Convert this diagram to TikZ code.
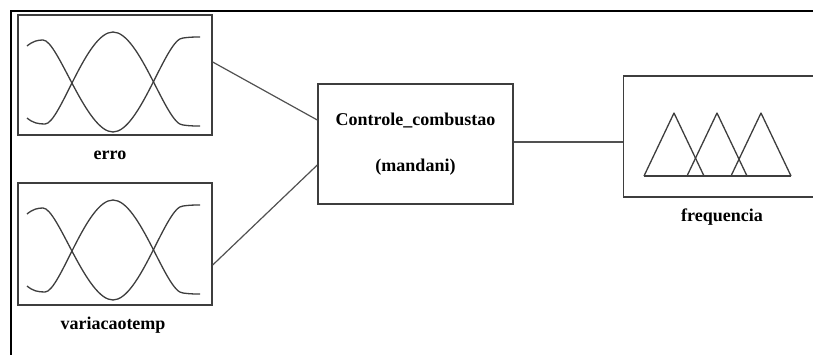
\documentclass[tikz,border=0pt]{standalone}
\usepackage{fontspec}
\setmainfont{Liberation Serif}
\usetikzlibrary{positioning}

\definecolor{mfgray}{RGB}{62,62,62}

\begin{document}
\begin{tikzpicture}[x=1pt, y=-1pt,
	fisbox/.style={draw=mfgray, line width=1.4pt, minimum width=194pt, minimum height=120pt, inner sep=0pt},
	fislabel/.style={font=\fontsize{18}{20}\selectfont\bfseries, inner sep=1pt},
	mfline/.style={draw=mfgray, line width=1.3pt, line join=round},
	conn/.style={draw=mfgray!90, line width=1.2pt}]
	\useasboundingbox (0,0) rectangle (813,354);
	\clip (0,0) rectangle (813,354);
	% window frame, cut at the right and bottom
	\draw[line width=2.5pt] (11,360) -- (11,11) -- (820,11);
	% inputs, rule block and output
	\node[fisbox] (erro) at (115,75) {};
	\node[fisbox, minimum height=122pt] (variacao) at (115,244) {};
	\node[fisbox, minimum width=195pt, align=center, font=\fontsize{18}{20}\selectfont\bfseries] (controle) at (415.5,144) {Controle\_combustao\\[26pt](mandani)};
	\node[fisbox, minimum width=240pt, minimum height=121pt, anchor=west] (freq) at (623,136.5) {};
	\node[fislabel] (erro label) at (110,155) {erro};
	\node[fislabel] (variacao label) at (113,325) {variacaotemp};
	\node[fislabel] (freq label) at (722,217) {frequencia};
	% links
	\draw[conn] ([yshift=13pt]erro.east) -- ([yshift=24pt]controle.west);
	\draw[conn] ([yshift=-21pt]variacao.east) -- ([yshift=-21pt]controle.west);
	\draw[conn] ([yshift=2pt]controle.east) -- ([yshift=2pt]controle.east -| freq.west);
	% membership functions of both inputs
	\foreach \dy in {0,168} {
		\begin{scope}[shift={(0,\dy)}]
			\draw[mfline] (27,46) .. controls (33,41) and (38,40) .. (43,40)
				.. controls (58,40) and (86,132) .. (113,132);
			\draw[mfline] (27,118) .. controls (33,123) and (38,124) .. (45,124)
				.. controls (60,124) and (86,32) .. (113,32)
				.. controls (140,32) and (166,125) .. (183,125)
				.. controls (190,126) and (195,126) .. (200,126);
			\draw[mfline] (113,132) .. controls (140,132) and (166,38) .. (183,38)
				.. controls (190,37) and (195,37) .. (200,37);
		\end{scope}
	}
	% triangles of the output
	\foreach \x in {674,717,761}
		\draw[mfline] (\x-30,176) -- (\x,113) -- (\x+30,176);
	\draw[mfline] (644,176) -- (791,176);
\end{tikzpicture}
\end{document}
